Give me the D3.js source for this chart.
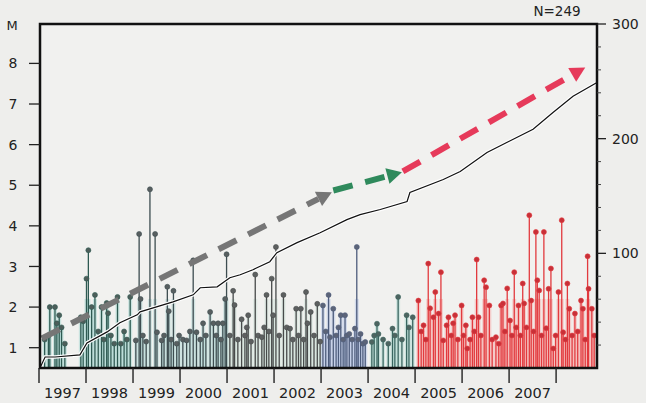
<!DOCTYPE html>
<html><head><meta charset="utf-8">
<script src="https://cdn.jsdelivr.net/npm/d3@7"></script>
<style>
body{margin:0;background:#eeeeec}
svg{display:block}
text{font-family:"DejaVu Sans",sans-serif;fill:#222}
</style>
</head><body>
<svg id="c" width="646" height="403"></svg>
<script>
// ---- data ----
const magTicks = [1,2,3,4,5,6,7,8];
const countTicks = [100,200,300];
const yearLabels = [1997,1998,1999,2000,2001,2002,2003,2004,2005,2006,2007];
const yearTicks = [1997,1998,1999,2000,2001,2002,2003,2004,2005,2006,2007,2008];

// [decimal year, magnitude]
const quakes = [
 [1997.12,1.2],[1997.20,1.3],[1997.23,2.0],[1997.34,2.0],[1997.38,1.6],[1997.43,1.8],[1997.48,1.5],[1997.55,1.1],
 [1997.89,1.75],[1997.94,1.65],[1998.01,2.7],[1998.05,3.4],[1998.12,2.0],[1998.19,2.3],[1998.26,1.4],[1998.33,2.0],
 [1998.38,1.2],[1998.44,2.1],[1998.47,1.85],[1998.53,1.3],[1998.60,1.1],[1998.67,2.25],[1998.74,1.1],[1998.81,1.4],
 [1998.87,1.2],[1998.94,2.25],
 [1999.06,1.18],[1999.13,3.8],[1999.16,2.2],[1999.21,1.3],[1999.28,1.15],[1999.36,4.9],[1999.47,3.8],[1999.51,1.38],
 [1999.61,1.18],[1999.66,1.3],[1999.73,2.5],[1999.76,1.9],[1999.81,1.2],[1999.86,2.4],[1999.93,1.1],[1999.98,1.3],
 [2000.06,1.2],[2000.14,1.18],[2000.21,1.4],[2000.28,3.15],[2000.35,1.38],[2000.43,1.2],[2000.49,1.6],[2000.55,1.3],
 [2000.64,1.88],[2000.71,1.6],[2000.77,1.3],[2000.81,1.6],[2000.87,1.2],[2000.91,1.6],[2000.96,2.2],[2000.99,3.3],
 [2001.06,1.3],[2001.13,2.4],[2001.16,2.05],[2001.23,1.2],[2001.31,1.7],[2001.38,1.3],[2001.42,1.5],[2001.45,1.8],
 [2001.51,1.15],[2001.60,2.8],[2001.66,1.3],[2001.74,1.26],[2001.79,1.5],[2001.84,2.3],[2001.89,1.4],[2001.95,2.7],
 [2001.98,1.8],
 [2002.04,3.48],[2002.11,1.3],[2002.20,2.3],[2002.27,1.5],[2002.34,1.47],[2002.40,1.2],[2002.47,1.96],[2002.52,1.3],
 [2002.57,1.96],[2002.63,1.2],[2002.68,2.37],[2002.71,1.6],[2002.78,1.88],[2002.85,1.3],[2002.92,2.08],[2002.98,1.15],
 [2003.04,2.04],[2003.10,1.4],[2003.16,2.3],[2003.19,1.26],[2003.26,1.96],[2003.32,1.3],[2003.37,1.5],[2003.42,1.8],
 [2003.47,1.2],[2003.51,1.8],[2003.55,1.3],[2003.60,1.34],[2003.66,1.2],[2003.72,1.47],[2003.76,3.48],[2003.79,1.2],
 [2003.84,1.34],[2003.89,1.1],[2003.94,1.14],
 [2004.08,1.14],[2004.13,1.3],[2004.19,1.59],[2004.22,1.34],[2004.32,1.2],[2004.43,1.1],[2004.52,1.47],[2004.57,1.3],
 [2004.64,2.25],[2004.72,1.2],[2004.82,1.8],[2004.87,1.5],[2004.95,1.75],
 [2005.07,2.16],[2005.13,1.4],[2005.18,1.55],[2005.23,1.2],[2005.28,3.07],[2005.32,1.97],[2005.39,1.75],[2005.43,2.37],
 [2005.50,1.84],[2005.55,2.86],[2005.60,1.18],[2005.67,1.55],[2005.71,1.75],[2005.77,1.3],[2005.81,1.6],[2005.85,1.8],
 [2005.91,1.2],[2005.99,2.04],
 [2006.03,1.3],[2006.08,1.55],[2006.11,0.98],[2006.17,1.2],[2006.22,1.75],[2006.26,1.4],[2006.31,3.17],[2006.35,1.75],
 [2006.40,1.3],[2006.47,2.66],[2006.51,2.49],[2006.58,2.04],[2006.64,1.2],[2006.72,1.26],[2006.78,1.1],[2006.83,2.04],
 [2006.87,2.09],[2006.91,1.4],[2006.96,2.46],
 [2007.02,1.67],[2007.06,1.3],[2007.11,2.86],[2007.15,1.5],[2007.20,2.04],[2007.24,1.3],[2007.29,2.58],[2007.32,2.09],
 [2007.37,1.5],[2007.43,4.26],[2007.47,2.16],[2007.52,1.4],[2007.57,3.85],[2007.60,2.66],[2007.64,2.41],[2007.69,1.3],
 [2007.74,3.85],[2007.79,1.48],[2007.84,2.45],[2007.89,2.95],[2007.94,0.98],[2007.99,1.3],
 [2008.05,2.37],[2008.12,4.14],[2008.15,1.38],[2008.20,1.2],[2008.24,2.58],[2008.28,1.96],[2008.34,1.3],[2008.40,1.84],
 [2008.46,1.4],[2008.53,2.16],[2008.57,1.96],[2008.62,1.2],[2008.67,3.25],[2008.69,2.45],[2008.76,1.96],[2008.81,1.3]
];

// cumulative number of events (right axis)
const cumTimes  = [1997.02,1997.13,1997.34,1997.87,1998.02,1998.45,1998.72,1999.09,1999.15,1999.64,1999.85,2000.28,2000.43,2000.79,2001.06,2001.28,2001.55,2001.91,2002.06,2002.49,2002.98,2003.55,2003.83,2004.26,2004.83,2004.89,2005.60,2005.96,2006.53,2006.96,2007.51,2007.94,2008.36,2008.87];
const cumCounts = [0,9.6,9.6,11.4,21.9,31.5,39.4,46.4,49,55,57.7,63.8,70,70.8,78.7,81.3,85.7,92.7,100.6,109.3,118,129.4,133.8,138.2,145.2,153,164.4,171.4,188,196.8,208.2,223,237,249];

// trend arrows: [start year, start M, end year, end M]
const arrowNames = ["gray","green","red"];
const arrowStart = [[1997.06,1.23],[2003.26,4.87],[2004.74,5.34]];
const arrowEnd   = [[2003.23,4.83],[2004.72,5.32],[2008.62,7.9]];
const totalLabel = "N=249";

// ---- drawing ----
const svg = d3.select("#c");
const L = 40, R = 597, T = 24, B = 368;
const x = d3.scaleLinear().domain([1997, 2008.87]).range([39, R]);
const yM = d3.scaleLinear().domain([0.5, 8.97]).range([B, T]);
const yN = d3.scaleLinear().domain([0, 300]).range([B, T]);

svg.append("rect").attr("x",L).attr("y",T).attr("width",R-L).attr("height",B-T).attr("fill","#f1f1ef");

const palette = [
  {to:1999,    stem:"#2e5a52", halo:"#a9d8d2", dot:"#4d5e5a"},
  {to:2001,    stem:"#3d4d50", halo:"#b7dbd8", dot:"#585f60"},
  {to:2003,    stem:"#474a4a", halo:"#d0e3da", dot:"#5d6060"},
  {to:2004,    stem:"#4d5c7c", halo:"#bac8e8", dot:"#5c6478"},
  {to:2004.98, stem:"#3a6660", halo:"#b4dcd4", dot:"#4e6460"},
  {to:9999,    stem:"#e23a3e", halo:"#f7b0ae", dot:"#c83038"}
];
const pal = t => palette.find(p => t < p.to);

const g = svg.append("g");
g.selectAll("line.halo").data(quakes).join("line").attr("class","halo")
  .attr("x1",d=>x(d[0])).attr("x2",d=>x(d[0]))
  .attr("y1",B).attr("y2",d=>yM(Math.min(d[1],2.2)))
  .attr("stroke",d=>pal(d[0]).halo).attr("stroke-width",4).attr("opacity",0.55);
g.selectAll("line.stem").data(quakes).join("line").attr("class","stem")
  .attr("x1",d=>x(d[0])).attr("x2",d=>x(d[0]))
  .attr("y1",B).attr("y2",d=>yM(d[1]))
  .attr("stroke",d=>pal(d[0]).stem).attr("stroke-width",1.3);
g.selectAll("circle").data(quakes).join("circle")
  .attr("cx",d=>x(d[0])).attr("cy",d=>yM(d[1])).attr("r",2.5)
  .attr("fill",d=>pal(d[0]).dot).attr("stroke",d=>pal(d[0]).stem).attr("stroke-width",0.6);

// cumulative line
const cum = cumTimes.map((t,i)=>[t,cumCounts[i]]);
const line = d3.line().x(d=>x(d[0])).y(d=>yN(d[1]));
svg.append("path").datum(cum).attr("d",line).attr("fill","none").attr("stroke","#fff").attr("stroke-width",3.5);
svg.append("path").datum(cum).attr("d",line).attr("fill","none").attr("stroke","#111").attr("stroke-width",1.2);

// arrows
const arrowColors = {gray:"#767676", green:"#2f8a5c", red:"#e63a5a"};
arrowNames.forEach((n,i)=>{
  const x0=x(arrowStart[i][0]), y0=yM(arrowStart[i][1]);
  const x1=x(arrowEnd[i][0]), y1=yM(arrowEnd[i][1]);
  const dx=x1-x0, dy=y1-y0, len=Math.hypot(dx,dy), ux=dx/len, uy=dy/len;
  const hl=15, hw=8;
  const bx=x1-ux*hl, by=y1-uy*hl;
  svg.append("line").attr("x1",x0).attr("y1",y0).attr("x2",bx).attr("y2",by)
    .attr("stroke",arrowColors[n]).attr("stroke-width",6).attr("stroke-dasharray","20,13");
  svg.append("path").attr("d",`M${x1},${y1}L${bx-uy*hw},${by+ux*hw}L${bx+uy*hw},${by-ux*hw}Z`)
    .attr("fill",arrowColors[n]);
});

// frame
svg.append("rect").attr("x",L).attr("y",T).attr("width",R-L).attr("height",B-T)
  .attr("fill","none").attr("stroke","#111").attr("stroke-width",2.5);

// left axis
const la = svg.append("g");
la.selectAll("line").data(magTicks).join("line")
  .attr("x1",29).attr("x2",L).attr("y1",d=>yM(d)).attr("y2",d=>yM(d)).attr("stroke","#222").attr("stroke-width",1.3);
la.selectAll("text").data(magTicks).join("text")
  .attr("x",13).attr("y",d=>yM(d)).attr("dy","0.36em").attr("text-anchor","middle").attr("font-size",14).text(d=>d);
svg.append("text").attr("x",12).attr("y",25).attr("dy","0.36em").attr("text-anchor","middle").attr("font-size",13).text("M");

// right axis
const ra = svg.append("g");
ra.selectAll("line.minor").data(d3.range(20,300,20).filter(v=>v%100)).join("line").attr("class","minor")
  .attr("x1",R).attr("x2",R+4).attr("y1",d=>yN(d)).attr("y2",d=>yN(d)).attr("stroke","#444").attr("stroke-width",1);
ra.selectAll("line.major").data(countTicks).join("line").attr("class","major")
  .attr("x1",R).attr("x2",R+9).attr("y1",d=>yN(d)).attr("y2",d=>yN(d)).attr("stroke","#222").attr("stroke-width",1.3);
ra.selectAll("text").data(countTicks).join("text")
  .attr("x",612).attr("y",d=>yN(d)).attr("dy","0.36em").attr("font-size",14).text(d=>d);

// bottom axis
const ba = svg.append("g");
ba.selectAll("line").data(yearTicks).join("line")
  .attr("x1",d=>x(d)).attr("x2",d=>x(d)).attr("y1",B).attr("y2",383).attr("stroke","#222").attr("stroke-width",1.4);
ba.selectAll("text").data(yearLabels).join("text")
  .attr("x",d=>x(d+0.5)).attr("y",398).attr("text-anchor","middle").attr("font-size",14.5).text(d=>d);

svg.append("text").attr("x",557).attr("y",11).attr("dy","0.36em").attr("text-anchor","middle").attr("font-size",13.5).text(totalLabel);
</script>
</body></html>
